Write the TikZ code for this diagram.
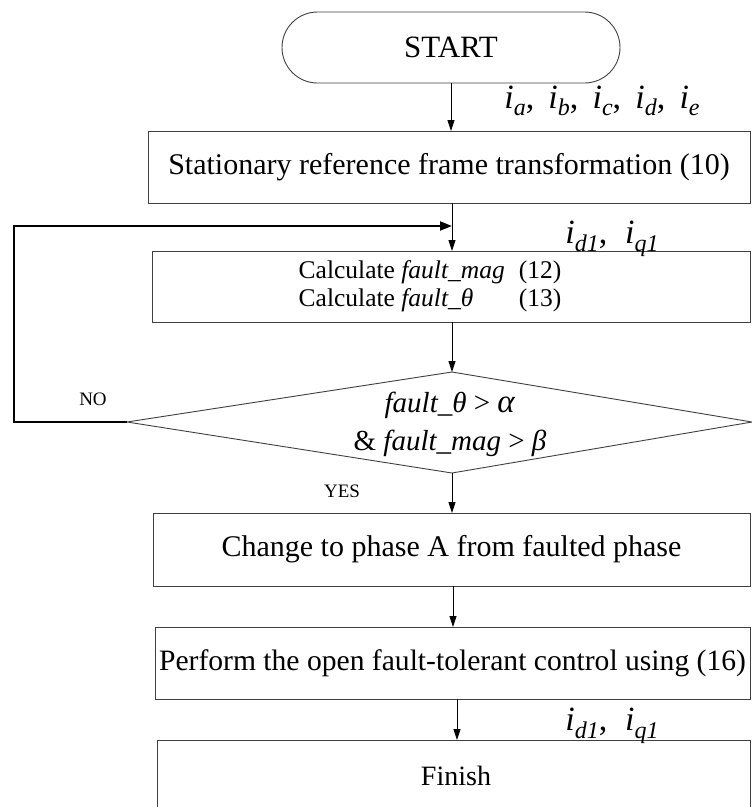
\documentclass[tikz,border=0pt]{standalone}
\usepackage{fontspec}
\setmainfont{Liberation Serif}
\usetikzlibrary{arrows.meta,shapes.misc}
\newcommand\ix[1]{\textit{i}\raisebox{-0.22em}{\fontsize{24}{24}\selectfont\textit{#1}}}
\begin{document}
\begin{tikzpicture}[x=1pt,y=-1pt,
  boxst/.style={draw=black!75, line width=0.9pt, rectangle, inner sep=0pt, minimum height=72pt,
     font=\fontsize{30}{34}\selectfont},
  startst/.style={draw=black!75, line width=0.9pt, rounded rectangle, inner sep=0pt,
     minimum width=338pt, minimum height=71pt, font=\fontsize{31}{34}\selectfont},
  arr/.style={draw=black, line width=0.8pt, -{Triangle[length=11pt,width=7pt]}},
  thickarr/.style={draw=black, line width=2pt, -{Triangle[length=12pt,width=9pt]}},
  lab/.style={inner sep=0pt, font=\fontsize{34}{38}\selectfont},
  small/.style={inner sep=0pt, font=\fontsize{19}{22}\selectfont}]
\useasboundingbox (0,0) rectangle (752,807);
\clip (0,0) rectangle (752,807);

\node[startst] (start) at (451,47.5) {START};
\node[boxst, minimum width=602pt] (b1) at (449,167) {Stationary reference frame transformation (10)};
\node[boxst, minimum width=598pt, minimum height=71pt] (b2) at (451,286.5) {};
\node[inner sep=0pt, font=\fontsize{25.5}{28}\selectfont] (b2t) at (430,287)
  {\begin{tabular}{@{}l@{\hspace{14pt}}l@{}}Calculate \textit{fault\_mag} & (12)\\[-0.5pt] Calculate \textit{fault\_θ} & (13)\end{tabular}};

\coordinate (dt) at (452,372);
\coordinate (dl) at (127,422);
\coordinate (dr) at (752,422);
\coordinate (db) at (452,473);
\draw[draw=black!75, line width=0.9pt] (dt) -- (dr) -- (db) -- (dl) -- cycle;
\node[inner sep=0pt, align=center, font=\fontsize{29}{38}\selectfont] (dtext) at (450,424)
  {\textit{fault\_θ} > {\fontsize{33}{38}\selectfont\textit{α}}\\ \& \textit{fault\_mag} > \textit{β}};

\node[boxst, minimum width=597pt, minimum height=73pt] (b3) at (451.5,549.5) {Change to phase A from faulted phase};
\node[boxst, minimum width=595pt, font=\fontsize{29.6}{34}\selectfont] (b4) at (452.5,663) {Perform the open fault-tolerant control using (16)};
\node[boxst, minimum width=593pt, minimum height=80pt, text depth=0pt] (b5) at (453.5,780) {};
\node[inner sep=0pt, font=\fontsize{28}{32}\selectfont] (b5t) at (456,776) {Finish};

\node[lab] (l1) at (602,101) {\ix{a},\, \ix{b},\, \ix{c},\, \ix{d},\, \ix{e}};
\node[lab] (l2) at (612,239) {\ix{d1},\; \ix{q1}};
\node[lab] (l3) at (612,726) {\ix{d1},\; \ix{q1}};
\node[small] (no) at (93,399) {NO};
\node[small] (yes) at (342,491) {YES};

\draw[arr] (451,83) -- (451,131);
\draw[arr] (452,203) -- (452,251);
\draw[arr] (452,322) -- (dt);
\draw[arr] (db) -- (452,513);
\draw[arr] (453,586) -- (453,627);
\draw[arr] (457,699) -- (457,740);
\coordinate (fb1) at (14,422);
\coordinate (fb2) at (14,226);
\coordinate (fb3) at (452,226);
\draw[thickarr] (dl) -- (fb1) -- (fb2) -- (fb3);
\end{tikzpicture}
\end{document}
